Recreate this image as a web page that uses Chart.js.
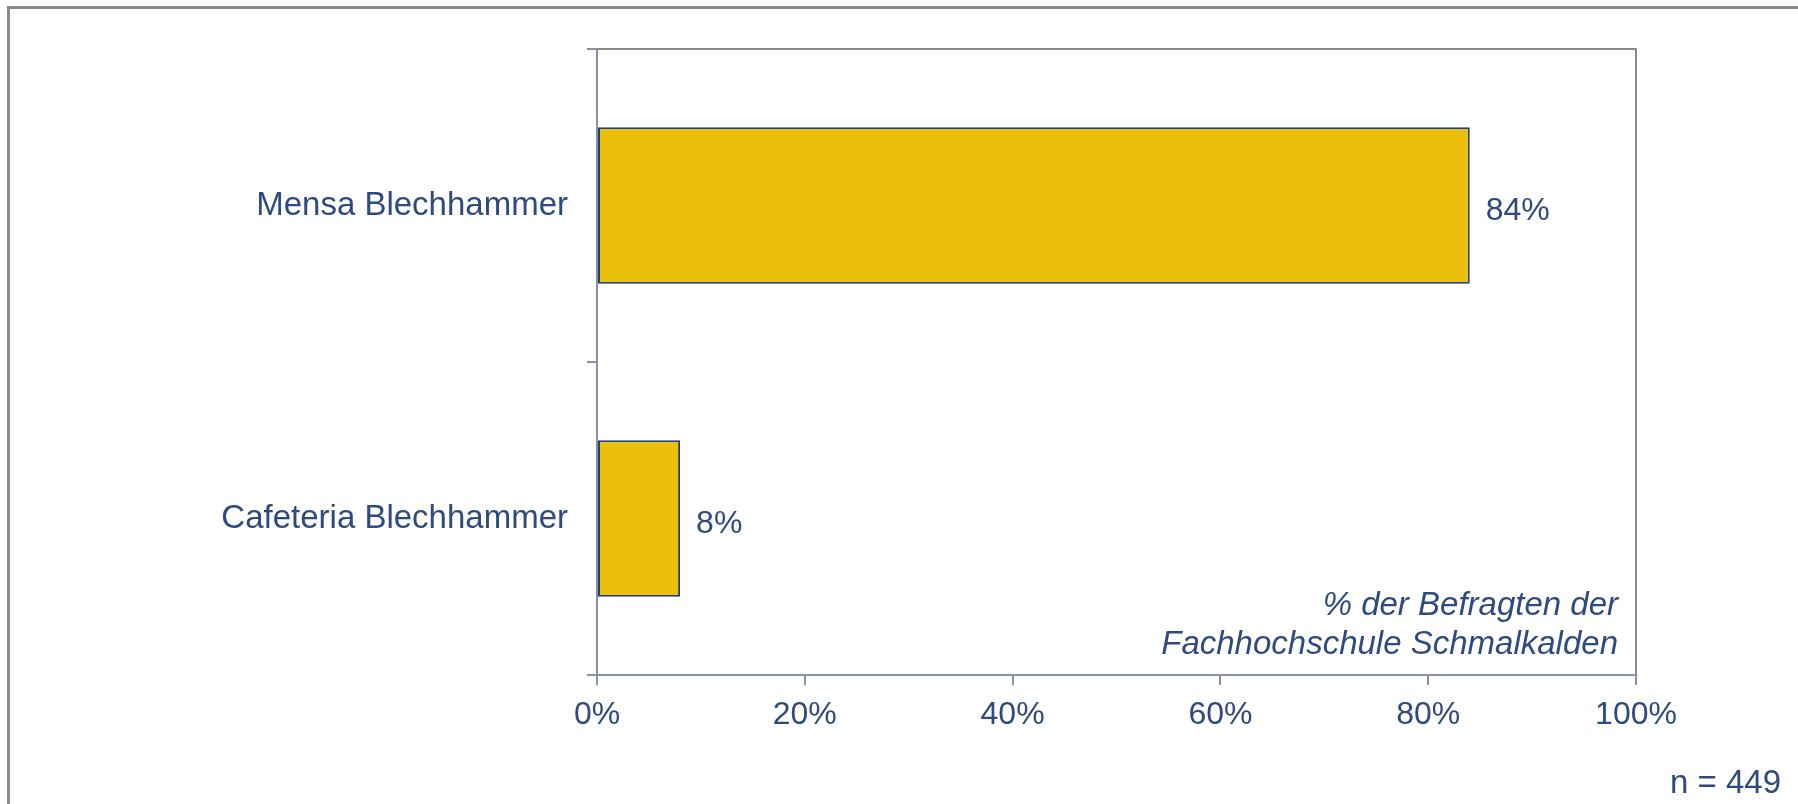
<!DOCTYPE html>
<html>
<head>
<meta charset="utf-8">
<script src="https://cdn.jsdelivr.net/npm/chart.js@4"></script>
<style>
  html, body { margin: 0; padding: 0; background: #fff; }
  #wrap { position: relative; width: 1798px; height: 804px; overflow: hidden; }
  #frame { position: absolute; left: 7px; top: 6px; width: 1800px; height: 810px;
           border-top: 3px solid #8a8a8a; border-left: 3px solid #8a8a8a; }
  canvas { position: absolute; left: 0; top: 0; }
  .note { position: absolute; font-family: "Liberation Sans", Arial, sans-serif; color: #2e4a7f; }
  #basis { right: 180px; top: 584px; font-size: 33px; font-style: italic; text-align: right; line-height: 39px; }
  #n { right: 17px; top: 763px; font-size: 33px; }
</style>
</head>
<body>
<div id="wrap">
  <div id="frame"></div>
  <canvas id="chart" width="1798" height="804"></canvas>
  <div class="note" id="basis">% der Befragten der<br>Fachhochschule Schmalkalden</div>
  <div class="note" id="n">n = 449</div>
</div>
<script>
// Daten
var kategorien = ['Mensa Blechhammer', 'Cafeteria Blechhammer'];
var anteile = [84, 8];
var xTicks = [0, 20, 40, 60, 80, 100];

var textFarbe = '#2e4a7f';
var achsFarbe = '#8a90aa';

// Werte rechts neben den Balken
var wertLabels = {
    id: 'wertLabels',
    afterDatasetsDraw: function(chart) {
        var ctx = chart.ctx;
        var meta = chart.getDatasetMeta(0);
        ctx.save();
        ctx.font = '32px "Liberation Sans", Arial, sans-serif';
        ctx.fillStyle = textFarbe;
        ctx.textAlign = 'left';
        ctx.textBaseline = 'middle';
        meta.data.forEach(function(bar, i) {
            ctx.fillText(anteile[i] + '%', bar.x + 16, bar.y + 6);
        });
        ctx.restore();
    }
};

// Rahmen oben und rechts
var rahmen = {
    id: 'rahmen',
    afterDraw: function(chart) {
        var a = chart.chartArea;
        var ctx = chart.ctx;
        ctx.save();
        ctx.strokeStyle = '#8a8a8a';
        ctx.lineWidth = 2;
        ctx.beginPath();
        ctx.moveTo(a.left, a.top);
        ctx.lineTo(a.right, a.top);
        ctx.lineTo(a.right, a.bottom);
        ctx.stroke();
        ctx.restore();
    }
};

var ctx = document.getElementById('chart').getContext('2d');
var chart = new Chart(ctx, {
    type: 'bar',
    data: {
        labels: kategorien,
        datasets: [{
            data: anteile,
            backgroundColor: '#ebc00a',
            borderColor: '#273e72',
            borderWidth: 2,
            borderSkipped: false,
            barPercentage: 0.5,
            categoryPercentage: 1
        }]
    },
    options: {
        indexAxis: 'y',
        responsive: false,
        animation: false,
        layout: { padding: { top: 49, right: 162, bottom: 0, left: 0 } },
        plugins: {
            legend: { display: false },
            tooltip: { enabled: false }
        },
        scales: {
            x: {
                min: 0,
                max: 100,
                afterBuildTicks: function(scale) {
                    scale.ticks = xTicks.map(function(v) { return { value: v }; });
                },
                afterFit: function(scale) { scale.height = 129; },
                grid: { drawOnChartArea: false, tickLength: 10, color: achsFarbe, lineWidth: 2 },
                border: { color: achsFarbe, width: 2 },
                ticks: {
                    color: textFarbe,
                    padding: 11,
                    font: { family: '"Liberation Sans", Arial, sans-serif', size: 32 },
                    callback: function(v) { return v + '%'; }
                }
            },
            y: {
                afterFit: function(scale) { scale.width = 597; },
                grid: { drawOnChartArea: false, tickLength: 10, color: achsFarbe, lineWidth: 2, offset: true },
                border: { color: achsFarbe, width: 2 },
                ticks: {
                    color: textFarbe,
                    padding: 19,
                    font: { family: '"Liberation Sans", Arial, sans-serif', size: 33 }
                }
            }
        }
    },
    plugins: [wertLabels, rahmen]
});
</script>
</body>
</html>
